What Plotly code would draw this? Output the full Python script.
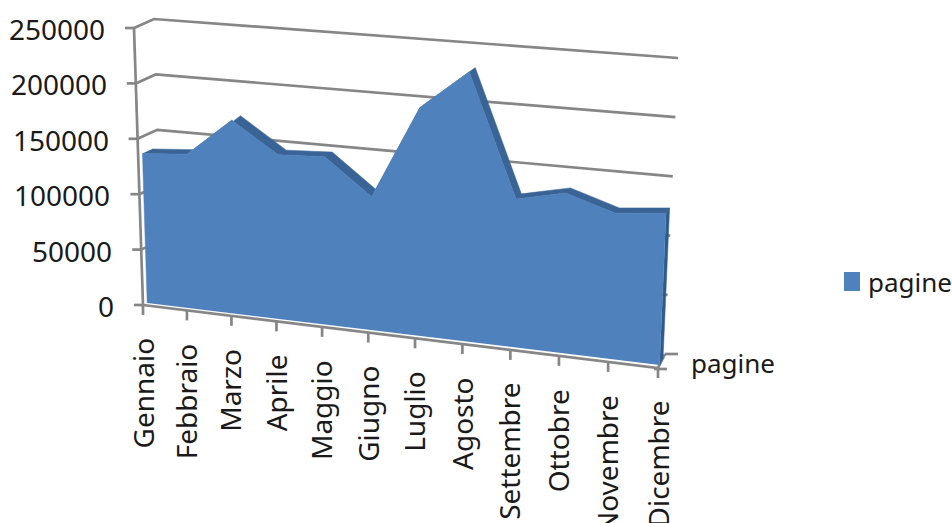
import plotly.graph_objects as go

# Monthly page counts
mesi = ["Gennaio", "Febbraio", "Marzo", "Aprile", "Maggio", "Giugno", "Luglio",
        "Agosto", "Settembre", "Ottobre", "Novembre", "Dicembre"]
pagine = [135000, 138000, 172000, 145000, 147000, 116000, 197000, 231000,
          126000, 135000, 122000, 126000]
valori_asse = [0, 50000, 100000, 150000, 200000, 250000]
VMAX = 250000

# Corners of the 3D plot box on the canvas: (month end, value end) per depth plane
FRONT = {"l0": (143, 305), "l1": (134, 28), "r0": (658, 368), "r1": (671, 66)}
BACK = {"l0": (162, 296), "l1": (154, 19), "r0": (665, 354), "r1": (678, 58)}
FORESHORTEN = 0.933       # spacing of months grows towards the viewer
AREA_FRONT, AREA_BACK = 0.22, 0.72   # depth of the area slab inside the box

GREY = "#868686"
BLUE = "#4F81BD"
TOP_DARK = "#3A6496"
SIDE_DARK = "#2F5A8C"
TEXT = "#1a1a1a"
FONT = "Noto Sans"
SIZE_TICK = 28
SIZE_SERIES = 26


def lerp(a, b, t):
    return a + (b - a) * t


def project(month, value, depth):
    """Perspective-style projection of (month index, value, depth) to canvas units."""
    u = month / (len(mesi) - 1)
    s = u * FORESHORTEN / ((1 - u) + u * FORESHORTEN)
    v = value / VMAX
    out = []
    for i in (0, 1):
        corner = {k: lerp(FRONT[k][i], BACK[k][i], depth) for k in FRONT}
        bottom = lerp(corner["l0"], corner["r0"], s)
        top = lerp(corner["l1"], corner["r1"], s)
        out.append(lerp(bottom, top, v))
    return out


def poly(points):
    return [p[0] for p in points], [p[1] for p in points]


def add_line(fig, points, width=2.7, color=GREY):
    x, y = poly(points)
    fig.add_trace(go.Scatter(x=x, y=y, mode="lines", showlegend=False, hoverinfo="skip",
                             line=dict(color=color, width=width)))


def add_fill(fig, points, color, name=None):
    x, y = poly(points)
    fig.add_trace(go.Scatter(x=x, y=y, mode="lines", fill="toself", fillcolor=color,
                             line=dict(color=color, width=0.5), name=name,
                             showlegend=False, hoverinfo="skip"))


fig = go.Figure()
last = len(mesi) - 1

# Wall gridlines
for val in valori_asse[1:]:
    add_line(fig, [project(0, val, 0), project(0, val, 1), project(last, val, 1)])

# Value axis and its ticks
add_line(fig, [project(0, 0, 0), project(0, VMAX, 0)])
for val in valori_asse:
    px, py = project(0, val, 0)
    add_line(fig, [(px - 9, py), (px, py)])

# Floor edges and month ticks
add_line(fig, [project(0, 0, 0), project(last, 0, 0), project(last, 0, 1)])
for m in range(len(mesi)):
    px, py = project(m, 0, 0)
    add_line(fig, [(px, py), (px, py + 10)])
bx, by = project(last, 0, 1)
add_line(fig, [(bx, by), (bx + 13, by)])
fx, fy = project(last, 0, 0)
add_line(fig, [(fx - 4, fy + 1), (fx + 9, fy + 1)])

# Area slab: top band, right side, then front face
front = [project(m, pagine[m], AREA_FRONT) for m in range(len(mesi))]
back = [project(m, pagine[m], AREA_BACK) for m in range(len(mesi))]
add_fill(fig, front + back[::-1], TOP_DARK)
add_fill(fig, [front[-1], back[-1], project(last, 0, AREA_BACK), project(last, 0, AREA_FRONT)],
         SIDE_DARK)
add_fill(fig, [project(0, 0, AREA_FRONT)] + front + [project(last, 0, AREA_FRONT)], BLUE)

annotations = []


def label(x, y, text, size, xanchor="center", yanchor="middle", angle=0):
    annotations.append(dict(x=x, y=y, xref="x", yref="y", text=text, showarrow=False,
                            xanchor=xanchor, yanchor=yanchor, textangle=angle, borderpad=0,
                            font=dict(family=FONT, size=size, color=TEXT)))


for val in valori_asse:
    px, py = project(0, val, 0)
    label(px - 28, py + 1, str(val), SIZE_TICK, xanchor="right")

for m, nome in enumerate(mesi):
    px, py = project(m, 0, 0)
    label(px - 1, py + 32, nome, SIZE_TICK, yanchor="top", angle=-90)

label(bx + 25, by + 9, "pagine", SIZE_SERIES, xanchor="left")
label(867, 282, "pagine", SIZE_SERIES, xanchor="left")

fig.update_layout(
    width=952, height=523, margin=dict(l=0, r=0, t=0, b=0),
    paper_bgcolor="white", plot_bgcolor="white", showlegend=False,
    xaxis=dict(range=[0, 952], visible=False, fixedrange=True),
    yaxis=dict(range=[523, 0], visible=False, fixedrange=True),
    annotations=annotations,
    shapes=[dict(type="rect", xref="x", yref="y", x0=844, x1=860, y0=272, y1=291,
                 fillcolor=BLUE, line=dict(width=0))],
)

fig.write_html("out.html")
